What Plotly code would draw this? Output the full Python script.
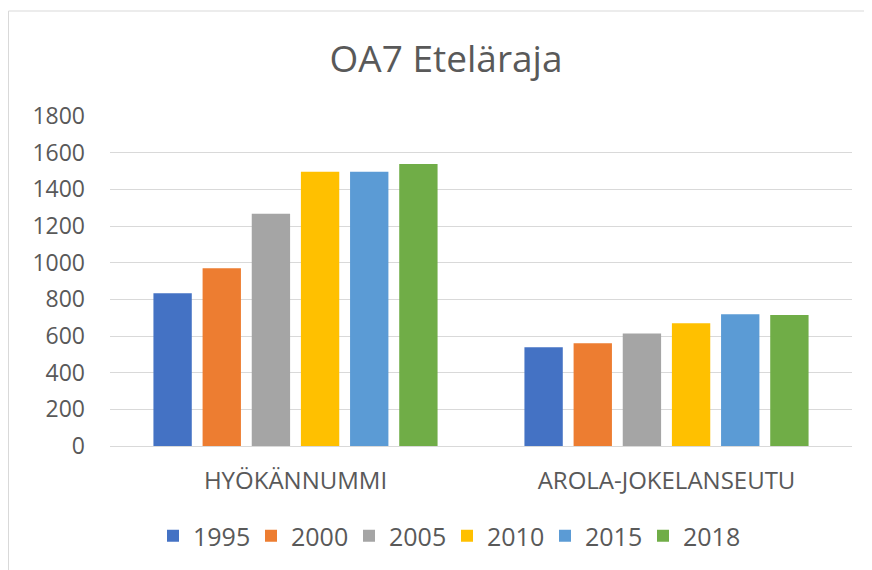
import plotly.graph_objects as go

categories = ["HYÖKÄNNUMMI", "AROLA-JOKELANSEUTU"]
years = ["1995", "2000", "2005", "2010", "2015", "2018"]
values = {
    "1995": [833, 538],
    "2000": [969, 560],
    "2005": [1267, 613],
    "2010": [1496, 669],
    "2015": [1496, 718],
    "2018": [1538, 715],
}
colors = ["#4472C4", "#ED7D31", "#A5A5A5", "#FFC000", "#5B9BD5", "#70AD47"]
y_ticks = [0, 200, 400, 600, 800, 1000, 1200, 1400, 1600, 1800]

FONT = "Open Sans"
GREY = "#595959"

fig = go.Figure()
for yr, col in zip(years, colors):
    fig.add_trace(go.Bar(x=categories, y=values[yr], name=yr,
                         marker=dict(color=col, line=dict(width=0))))

# page body has an 8px offset; coordinates below are in figure space
L, R, T, B = 102, 28, 108, 132
PW = 872 - L - R
PH = 570 - T - B
fig.update_layout(
    width=872, height=570,
    margin=dict(l=L, r=R, t=T, b=B, autoexpand=False),
    paper_bgcolor="white", plot_bgcolor="white",
    barmode="group", bargap=0.205, bargroupgap=0.22,
    font=dict(family=FONT, color=GREY),
    title=dict(text="OA7 Eteläraja", x=438/872, xanchor="center",
               y=1 - 51/570, yanchor="middle",
               font=dict(family=FONT, size=37, color=GREY)),
    xaxis=dict(showgrid=False, showline=True, linecolor="#d9d9d9", linewidth=1,
               tickfont=dict(size=24, color=GREY), ticks="", ticklabelstandoff=13),
    yaxis=dict(range=[0, 1800], tickvals=y_ticks, showgrid=True,
               gridcolor="#d9d9d9", gridwidth=1, zeroline=False, showline=False,
               tickfont=dict(size=23, color=GREY), ticklabelstandoff=24),
    legend=dict(orientation="h", x=(145 - L)/PW, xanchor="left",
                y=-90/PH, yanchor="middle",
                font=dict(size=25, color=GREY),
                entrywidth=53, entrywidthmode="pixels", itemclick=False),
    showlegend=True,
)
fig.add_shape(type="rect", xref="paper", yref="paper",
              x0=(0.5 - L)/PW, x1=1.2, y0=-1.0, y1=(PH + T - 3)/PH,
              line=dict(color="#d9d9d9", width=1), layer="below")
fig.write_html("out.html")
